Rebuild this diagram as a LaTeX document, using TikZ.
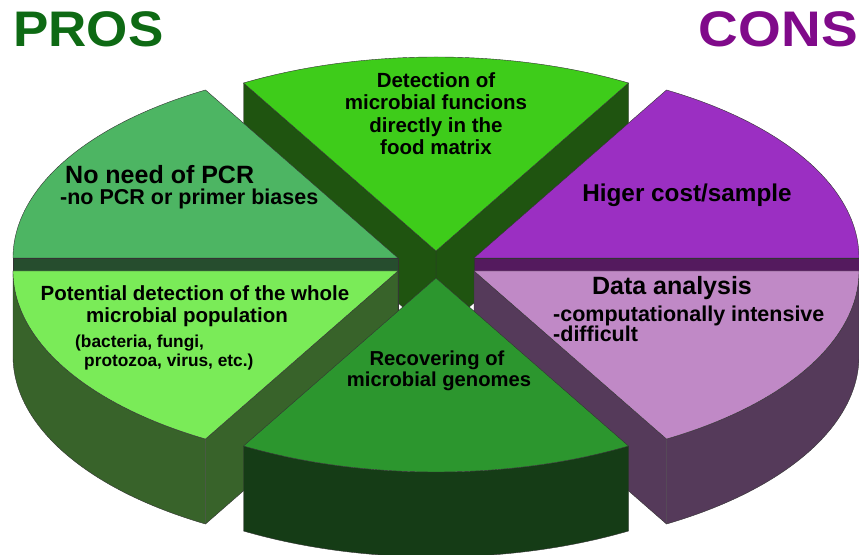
\documentclass[tikz,border=0pt]{standalone}
\usepackage{fontspec}
\setmainfont{Liberation Sans}
\definecolor{costtop}{HTML}{9B2FC2}
\definecolor{costside}{HTML}{541A5E}
\definecolor{foodtop}{HTML}{3ECC1A}
\definecolor{foodside}{HTML}{1F5410}
\definecolor{pcrtop}{HTML}{4DB563}
\definecolor{pcrside}{HTML}{264D2E}
\definecolor{wholetop}{HTML}{7AEB58}
\definecolor{wholeside}{HTML}{38632A}
\definecolor{genometop}{HTML}{2C962E}
\definecolor{genomeside}{HTML}{153C16}
\definecolor{datatop}{HTML}{C089C6}
\definecolor{dataside}{HTML}{553A5A}
\definecolor{prosgreen}{HTML}{0E6A14}
\definecolor{consviolet}{HTML}{800A8A}

\begin{document}
\begin{tikzpicture}[x=1pt,y=1pt,
  face/.style={draw=black!80,line width=0.4pt,line join=round},
  rad/.style={x radius=385pt,y radius=194pt},
  lbl/.style={inner sep=0pt,anchor=base,font=\bfseries}]
\clip (0,0) rectangle (859,554);
% apex of each slice
\coordinate (food) at (436,303);
\coordinate (cost) at (474,296);
\coordinate (pcr) at (398,296);
\coordinate (whole) at (398,283);
\coordinate (data) at (474,283);
\coordinate (genome) at (436,276);

% top slice
\draw[face,fill=foodside] (food) -- ++(60:385pt and 194pt) -- ++(0,-85) -- ([yshift=-85pt]food) -- cycle;
\draw[face,fill=foodside] (food) -- ++(120:385pt and 194pt) -- ++(0,-85) -- ([yshift=-85pt]food) -- cycle;
\draw[face,fill=foodtop] (food) -- ++(60:385pt and 194pt) arc[start angle=60,end angle=120,rad] -- cycle;

% upper slices
\draw[face,fill=costside] (cost) -- ++(385,0) -- ++(0,-85) -- ([yshift=-85pt]cost) -- cycle;
\draw[face,fill=costtop] (cost) -- ++(0:385pt and 194pt) arc[start angle=0,end angle=60,rad] -- cycle;
\draw[face,fill=pcrside] (pcr) -- ++(-385,0) -- ++(0,-85) -- ([yshift=-85pt]pcr) -- cycle;
\draw[face,fill=pcrtop] (pcr) -- ++(120:385pt and 194pt) arc[start angle=120,end angle=180,rad] -- cycle;

% lower slices
\draw[face,fill=wholeside] (whole) ++(180:385pt and 194pt) arc[start angle=180,end angle=240,rad] -- ++(0,-85) arc[start angle=240,end angle=180,rad] -- cycle;
\draw[face,fill=wholeside] (whole) -- ++(240:385pt and 194pt) -- ++(0,-85) -- ([yshift=-85pt]whole) -- cycle;
\draw[face,fill=wholetop] (whole) -- ++(180:385pt and 194pt) arc[start angle=180,end angle=240,rad] -- cycle;
\draw[face,fill=dataside] (data) ++(300:385pt and 194pt) arc[start angle=300,end angle=360,rad] -- ++(0,-85) arc[start angle=360,end angle=300,rad] -- cycle;
\draw[face,fill=dataside] (data) -- ++(300:385pt and 194pt) -- ++(0,-85) -- ([yshift=-85pt]data) -- cycle;
\draw[face,fill=datatop] (data) -- ++(300:385pt and 194pt) arc[start angle=300,end angle=360,rad] -- cycle;

% front slice
\draw[face,fill=genomeside] (genome) ++(240:385pt and 194pt) arc[start angle=240,end angle=300,rad] -- ++(0,-85) arc[start angle=300,end angle=240,rad] -- cycle;
\draw[face,fill=genometop] (genome) -- ++(240:385pt and 194pt) arc[start angle=240,end angle=300,rad] -- cycle;

% titles
\node[lbl,anchor=base west,text=prosgreen,font=\bfseries\fontsize{50}{50}\selectfont] (pros) at (13,507) {\scalebox{1.06}[1]{PROS}};
\node[lbl,anchor=base east,text=consviolet,font=\bfseries\fontsize{50}{50}\selectfont] (cons) at (858,507) {\scalebox{1.1}[1]{CONS}};

% labels
\node[lbl,font=\bfseries\fontsize{20.5}{22}\selectfont] (food1) at (436,466) {Detection of};
\node[lbl,font=\bfseries\fontsize{20.5}{22}\selectfont] (food2) at (436,444) {microbial funcions};
\node[lbl,font=\bfseries\fontsize{20.5}{22}\selectfont] (food3) at (436,421) {directly in the};
\node[lbl,font=\bfseries\fontsize{20.5}{22}\selectfont] (food4) at (436,399) {food matrix};
\node[lbl,anchor=base west,font=\bfseries\fontsize{25}{25}\selectfont] (pcr1) at (65,370) {No need of PCR};
\node[lbl,anchor=base west,font=\bfseries\fontsize{21.5}{22}\selectfont] (pcr2) at (60,349) {-no PCR or primer biases};
\node[lbl,font=\bfseries\fontsize{24.3}{25}\selectfont] (cost1) at (687,352) {Higer cost/sample};
\node[lbl,font=\bfseries\fontsize{25}{25}\selectfont] (data1) at (672,259) {Data analysis};
\node[lbl,anchor=base west,font=\bfseries\fontsize{21.5}{22}\selectfont] (data2) at (553,232) {-computationally intensive};
\node[lbl,anchor=base west,font=\bfseries\fontsize{21.5}{22}\selectfont] (data3) at (553,212) {-difficult};
\node[lbl,font=\bfseries\fontsize{20.5}{22}\selectfont] (whole1) at (195,253) {Potential detection of the whole};
\node[lbl,font=\bfseries\fontsize{20.5}{22}\selectfont] (whole2) at (187,231) {microbial population};
\node[lbl,anchor=base west,font=\bfseries\fontsize{17.3}{19}\selectfont] (whole3) at (75,206) {(bacteria, fungi,};
\node[lbl,anchor=base west,font=\bfseries\fontsize{17.3}{19}\selectfont] (whole4) at (84,187) {protozoa, virus, etc.)};
\node[lbl,font=\bfseries\fontsize{20.2}{22}\selectfont] (genome1) at (437,188) {Recovering of};
\node[lbl,font=\bfseries\fontsize{20.2}{22}\selectfont] (genome2) at (439,167) {microbial genomes};
\end{tikzpicture}
\end{document}
